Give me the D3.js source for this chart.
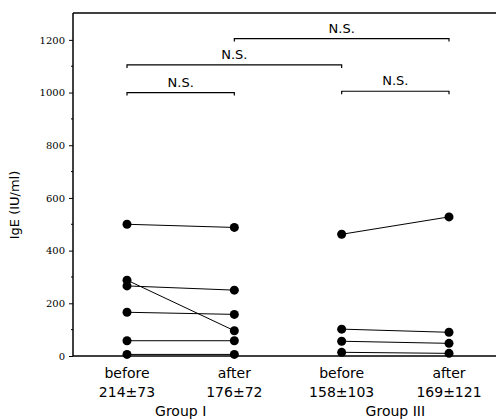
<!DOCTYPE html>
<html><head><meta charset="utf-8">
<script src="https://cdn.jsdelivr.net/npm/d3@7"></script>
<style>body{margin:0;background:#fff}svg{display:block}</style>
</head><body><svg id="c" width="496" height="419"></svg>
<script>
const positions = ["I-before","I-after","III-before","III-after"];
const posLabels = ["before","after","before","after"];
const meanLabels = ["214\u00B173","176\u00B172","158\u00B1103","169\u00B1121"];
const groups = [{name:"Group I", from:"I-before", to:"I-after"},{name:"Group III", from:"III-before", to:"III-after"}];
const groupIBefore = [500, 288, 266, 166, 58, 6];
const groupIAfter  = [488, 96, 250, 158, 58, 6];
const groupIIIBefore = [462, 102, 56, 14];
const groupIIIAfter  = [528, 90, 48, 10];
const yTicks = [0,200,400,600,800,1000,1200];
const yMinor = [100,300,500,700,900,1100];
const brackets = [
  {from:"I-before", to:"I-after", level:1000, label:"N.S."},
  {from:"III-before", to:"III-after", level:1005, label:"N.S."},
  {from:"I-before", to:"III-before", level:1105, label:"N.S."},
  {from:"I-after", to:"III-after", level:1205, label:"N.S."}
];

const svg = d3.select("#c");
const mLeft = 73, mRight = 496, mTop = 13, mBottom = 356;
const x = d3.scalePoint().domain(positions).range([127, 449]).padding(0);
const y = d3.scaleLinear().domain([0, 1302]).range([mBottom, mTop]);
const font = "'DejaVu Sans', sans-serif";

// frame
svg.append("line").attr("x1",mLeft).attr("x2",mRight).attr("y1",mTop).attr("y2",mTop).attr("stroke","#000").attr("stroke-width",1.5);
svg.append("line").attr("x1",mLeft).attr("x2",mRight).attr("y1",mBottom).attr("y2",mBottom).attr("stroke","#000").attr("stroke-width",1.5);

const yAxis = d3.axisLeft(y).tickValues(yTicks).tickFormat(d3.format("d")).tickSize(4).tickPadding(4);
const ga = svg.append("g").attr("transform",`translate(${mLeft},0)`).call(yAxis);
ga.select(".domain").attr("d",`M0,${mTop}V${mBottom}`).attr("stroke-width",1.5);
ga.selectAll("text").attr("font-family","'DejaVu Serif', serif").attr("font-size",10).attr("fill","#000");
svg.append("g").selectAll("line").data(yMinor).join("line")
  .attr("x1",mLeft-2).attr("x2",mLeft).attr("y1",d=>y(d)).attr("y2",d=>y(d)).attr("stroke","#000");

svg.append("text").attr("transform",`translate(19,205) rotate(-90)`)
  .attr("text-anchor","middle").attr("font-family",font).attr("font-size",13).text("IgE (IU/ml)");

// pairs
const series = [
  {from:"I-before", to:"I-after", a:groupIBefore, b:groupIAfter},
  {from:"III-before", to:"III-after", a:groupIIIBefore, b:groupIIIAfter}
];
series.forEach(s=>{
  const pairs = s.a.map((v,i)=>[v, s.b[i]]);
  svg.append("g").selectAll("line").data(pairs).join("line")
    .attr("x1",x(s.from)).attr("x2",x(s.to)).attr("y1",d=>y(d[0])).attr("y2",d=>y(d[1]))
    .attr("stroke","#000").attr("stroke-width",1);
  svg.append("g").selectAll("circle").data(s.a).join("circle")
    .attr("cx",x(s.from)).attr("cy",d=>y(d)).attr("r",4.5).attr("fill","#000");
  svg.append("g").selectAll("circle").data(s.b).join("circle")
    .attr("cx",x(s.to)).attr("cy",d=>y(d)).attr("r",4.5).attr("fill","#000");
});

// brackets
brackets.forEach(b=>{
  const x1 = x(b.from), xb = x(b.to), yy = y(b.level);
  svg.append("path").attr("d",`M${x1},${yy+3}V${yy}H${xb}V${yy+3}`).attr("fill","none").attr("stroke","#000").attr("stroke-width",1.2);
  svg.append("text").attr("x",(x1+xb)/2).attr("y",yy-6).attr("text-anchor","middle")
    .attr("font-family",font).attr("font-size",13).text(b.label);
});

// x labels
positions.forEach((p,i)=>{
  svg.append("text").attr("x",x(p)).attr("y",378).attr("text-anchor","middle").attr("font-family",font).attr("font-size",14).text(posLabels[i]);
  svg.append("text").attr("x",x(p)).attr("y",397).attr("text-anchor","middle").attr("font-family",font).attr("font-size",14).text(meanLabels[i]);
});
groups.forEach(g=>{
  svg.append("text").attr("x",(x(g.from)+x(g.to))/2).attr("y",416).attr("text-anchor","middle").attr("font-family",font).attr("font-size",14).text(g.name);
});
</script></body></html>
